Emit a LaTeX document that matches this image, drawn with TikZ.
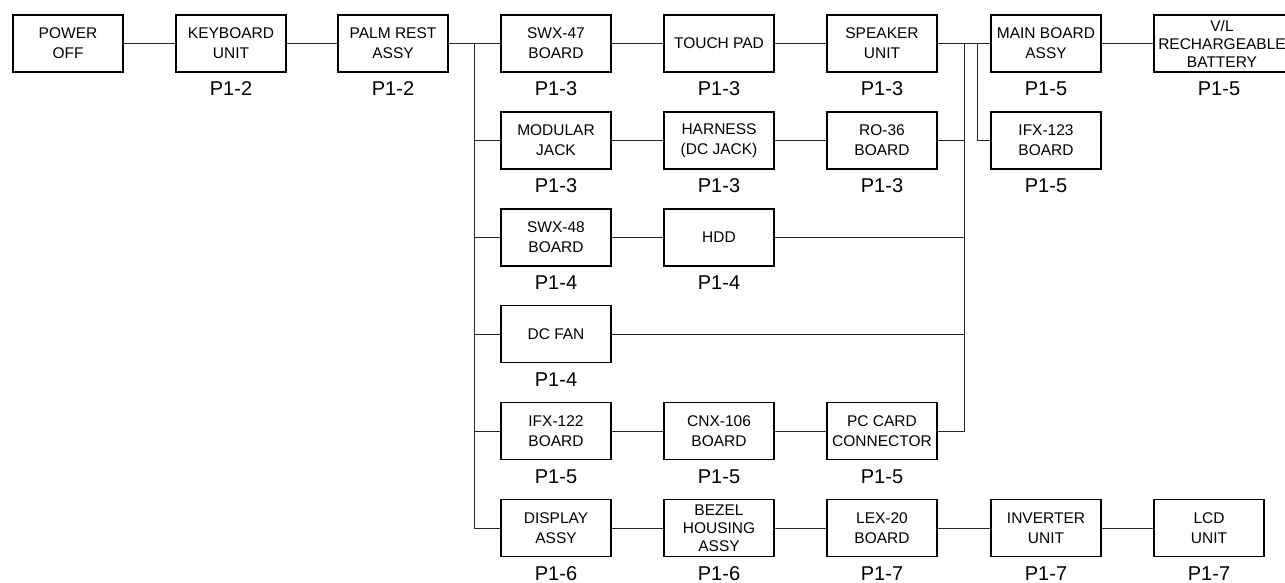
\documentclass[tikz,border=0pt]{standalone}
\usepackage{fontspec}
\setmainfont{Liberation Sans}
\usetikzlibrary{positioning, calc}

\tikzset{
  unit/.style={draw=black, line width=1.5pt, minimum width=110pt, minimum height=57pt,
               inner sep=0pt, align=center, font=\fontsize{15.5}{20}\selectfont},
  tightunit/.style={unit, font=\fontsize{15.5}{18}\selectfont},
  pagelbl/.style={font=\fontsize{20}{22}\selectfont, inner sep=0pt, label distance=9pt},
  link/.style={draw=black!85, line width=0.9pt},
}

\begin{document}
\begin{tikzpicture}[x=1pt, y=-1pt]
  \clip (0,0) rectangle (1285,583);

  % Row 1 -- top chain
  \node[unit]                              (pwr)    at (68,43.5)   {POWER\\OFF};
  \node[unit, label={[pagelbl]below:P1-2}] (kbd)    at (231,43.5)  {KEYBOARD\\UNIT};
  \node[unit, label={[pagelbl]below:P1-2}] (palm)   at (393,43.5)  {PALM REST\\ASSY};
  \node[unit, label={[pagelbl]below:P1-3}] (swxa)   at (556,43.5)  {SWX-47\\BOARD};
  \node[unit, label={[pagelbl]below:P1-3}] (touch)  at (719,43.5)  {TOUCH PAD};
  \node[unit, label={[pagelbl]below:P1-3}] (spk)    at (882,43.5)  {SPEAKER\\UNIT};
  \node[unit, label={[pagelbl]below:P1-5}] (mainb)  at (1046,43.5) {MAIN BOARD\\ASSY};
  \node[tightunit, minimum width=136pt, label={[pagelbl, xshift=-3pt]below:P1-5}] (batt) at (1222,43.5)
       {V/L\\RECHARGEABLE\\BATTERY};

  % Row 2
  \node[unit, label={[pagelbl]below:P1-3}] (modj)   at (556,140.5)  {MODULAR\\JACK};
  \node[unit, label={[pagelbl]below:P1-3}] (harn)   at (719,140.5)  {HARNESS\\(DC JACK)};
  \node[unit, label={[pagelbl]below:P1-3}] (ro)     at (882,140.5)  {RO-36\\BOARD};
  \node[unit, label={[pagelbl]below:P1-5}] (ifxb)   at (1046,140.5) {IFX-123\\BOARD};

  % Row 3 and 4
  \node[unit, label={[pagelbl]below:P1-4}] (swxb)   at (556,237.5)  {SWX-48\\BOARD};
  \node[unit, label={[pagelbl]below:P1-4}] (hdd)    at (719,237.5)  {HDD};
  \node[unit, label={[pagelbl]below:P1-4}] (fan)    at (556,334)    {DC FAN};

  % Row 5
  \node[unit, label={[pagelbl]below:P1-5}] (ifxa)   at (556,431)    {IFX-122\\BOARD};
  \node[unit, label={[pagelbl]below:P1-5}] (cnx)    at (719,431)    {CNX-106\\BOARD};
  \node[unit, label={[pagelbl]below:P1-5}] (pccard) at (882,431)    {PC CARD\\CONNECTOR};

  % Row 6 -- display chain
  \node[unit, label={[pagelbl]below:P1-6}]      (disp)  at (556,528)  {DISPLAY\\ASSY};
  \node[tightunit, label={[pagelbl]below:P1-6}] (bezel) at (719,528)  {BEZEL\\HOUSING\\ASSY};
  \node[unit, label={[pagelbl]below:P1-7}]      (lex)   at (882,528)  {LEX-20\\BOARD};
  \node[unit, label={[pagelbl]below:P1-7}]      (inv)   at (1046,528) {INVERTER\\UNIT};
  \node[unit, label={[pagelbl]below:P1-7}]      (lcd)   at (1209,528) {LCD\\UNIT};

  % Bus lines
  \coordinate (lbus) at (474,0);
  \coordinate (rbus) at (964,0);
  \coordinate (sbus) at (977,0);

  % Chains
  \draw[link] (pwr) -- (kbd);
  \draw[link] (kbd) -- (palm);
  \draw[link] (palm) -- (swxa);
  \draw[link] (swxa) -- (touch);
  \draw[link] (touch) -- (spk);
  \draw[link] (spk) -- (mainb);
  \draw[link] (mainb) -- (batt);
  \draw[link] (modj) -- (harn);
  \draw[link] (harn) -- (ro);
  \draw[link] (swxb) -- (hdd);
  \draw[link] (ifxa) -- (cnx);
  \draw[link] (cnx) -- (pccard);
  \draw[link] (disp) -- (bezel);
  \draw[link] (bezel) -- (lex);
  \draw[link] (lex) -- (inv);
  \draw[link] (inv) -- (lcd);

  % Left bus
  \draw[link] (lbus |- palm.east) -- (lbus |- disp.west) -- (disp.west);
  \foreach \n in {modj, swxb, fan, ifxa}
    \draw[link] (lbus |- \n.west) -- (\n.west);

  % Right buses
  \draw[link] (rbus |- spk.east) -- (rbus |- pccard.east) -- (pccard.east);
  \foreach \n in {ro, hdd, fan}
    \draw[link] (\n.east) -- (rbus |- \n.east);
  \draw[link] (sbus |- mainb.west) -- (sbus |- ifxb.west) -- (ifxb.west);
\end{tikzpicture}
\end{document}
